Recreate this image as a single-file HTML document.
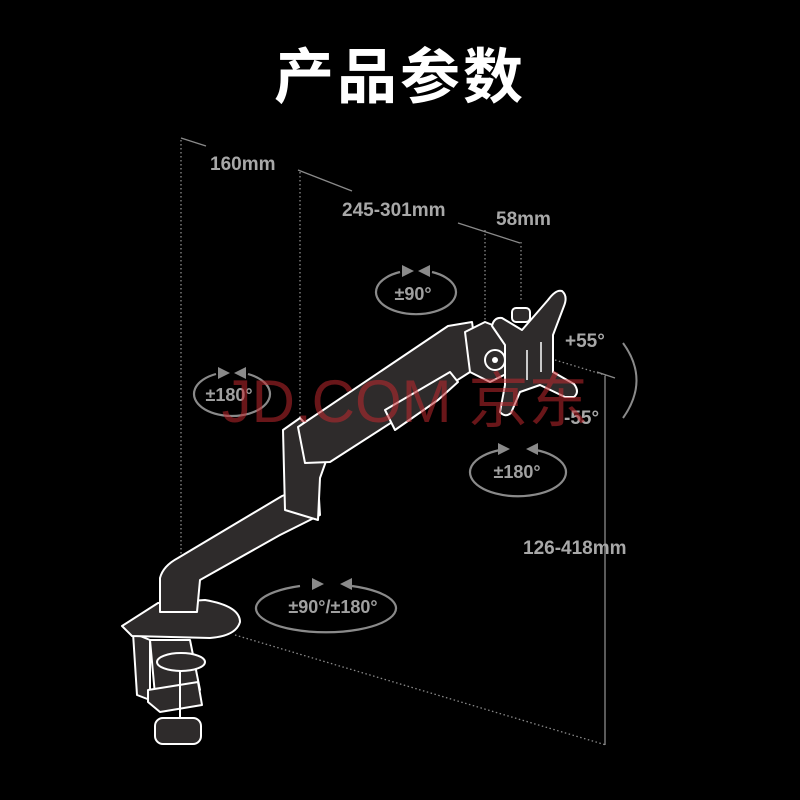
<!DOCTYPE html>
<html><head><meta charset="utf-8"><style>
html,body{margin:0;padding:0;background:#000;}
svg{display:block;}
text{font-family:"Liberation Sans","Noto Sans CJK SC",sans-serif;}
</style></head><body>
<svg width="800" height="800" viewBox="0 0 800 800" xmlns="http://www.w3.org/2000/svg">
<rect width="800" height="800" fill="#000"/>
<text x="400" y="98" text-anchor="middle" font-size="60" font-weight="bold" fill="#fff" letter-spacing="3">产品参数</text>

<g stroke="#8a8a8a" stroke-width="1.3" fill="none">
<line x1="181" y1="138" x2="206" y2="146"/>
<line x1="298" y1="170" x2="352" y2="191"/>
<line x1="458" y1="223" x2="520" y2="243"/>
<g stroke-dasharray="1.5 2.5">
<line x1="181" y1="140" x2="181" y2="556"/>
<line x1="300" y1="172" x2="300" y2="440"/>
<line x1="485" y1="230" x2="485" y2="325"/>
<line x1="521" y1="242" x2="521" y2="302"/>
<line x1="555" y1="360" x2="608" y2="376"/>
<line x1="235" y1="635" x2="606" y2="745"/>
</g>
<line x1="605" y1="376" x2="605" y2="745"/>
<line x1="597" y1="372" x2="615" y2="378"/>
<path d="M623 343 Q650 380 623 418" stroke-width="2"/>
</g>

<g fill="#a8a8a8" font-size="19" font-weight="bold">
<text x="210" y="170">160mm</text>
<text x="342" y="216">245-301mm</text>
<text x="496" y="225">58mm</text>
<text x="565" y="347">+55°</text>
<text x="564" y="424">-55°</text>
<text x="523" y="554">126-418mm</text>
</g>

<g stroke="#8a8a8a" stroke-width="2.2" fill="none">
<path d="M400 272 A40 22 0 1 0 432 272"/>
<path d="M216 374 A38 22 0 1 0 248 374"/>
<path d="M500 450 A48 24 0 1 0 536 450"/>
<path d="M300 586 A70 24 0 1 0 352 586"/>
</g>
<g fill="#8a8a8a">
<polygon points="402,265 414,271 402,277"/><polygon points="430,265 418,271 430,277"/>
<polygon points="218,367 230,373 218,379"/><polygon points="246,367 234,373 246,379"/>
<polygon points="498,443 510,449 498,455"/><polygon points="538,443 526,449 538,455"/>
<polygon points="312,578 324,584 312,590"/><polygon points="352,578 340,584 352,590"/>
</g>
<g fill="#a0a0a0" font-size="18" font-weight="bold" text-anchor="middle">
<text x="413" y="300">±90°</text>
<text x="229" y="401">±180°</text>
<text x="517" y="478">±180°</text>
<text x="333" y="613">±90°/±180°</text>
</g>

<g fill="#2e2b2b" stroke="#fff" stroke-width="2" stroke-linejoin="round">
<polygon points="133,633 150,640 150,700 137,695"/>
<polygon points="150,640 190,640 200,690 155,695"/>
<polygon points="148,690 198,682 202,705 160,712 148,702"/>
<rect x="155" y="718" width="46" height="26" rx="8"/>
<ellipse cx="181" cy="662" rx="24" ry="9"/>
<line x1="180" y1="670" x2="180" y2="718"/>
<path d="M122 626 L158 603 L205 600 Q240 606 240 622 Q236 636 210 638 L132 636 Z"/>
<path d="M160 612 L160 578 Q163 566 178 558 L282 496 L318 482 L320 515 L280 535 L200 580 L197 612 Z"/>
<path d="M283 430 L300 418 L330 450 L320 478 L318 520 L285 510 L284 470 Z"/>
<path d="M298 427 L448 326 L472 322 L477 356 L470 372 L330 462 L305 463 Z"/>
<path d="M385 410 L450 372 L458 382 L438 400 L395 430 Z"/>
<path d="M465 332 L485 322 L505 330 L510 372 L490 382 L470 372 Z"/>
<circle cx="495" cy="360" r="10"/>
<rect x="512" y="308" width="18" height="14" rx="4"/>
<path d="M492 326 Q494 317 502 318 L522 330 L548 300 Q556 289 562 291 Q568 296 564 306 L553 335 L553 372 L574 384 Q580 392 574 397 L565 397 L540 385 L520 392 L511 413 Q505 418 500 412 L505 385 L505 345 Z"/>
</g>
<g stroke="#fff" stroke-width="1.5" fill="none">
<line x1="527" y1="350" x2="527" y2="380"/>
<line x1="541" y1="342" x2="541" y2="372"/>
</g>
<circle cx="495" cy="360" r="3" fill="#fff"/>

<text x="405" y="422" text-anchor="middle" font-size="60" fill="#c0282d" fill-opacity="0.55">JD.COM 京东</text>
</svg>
</body></html>
